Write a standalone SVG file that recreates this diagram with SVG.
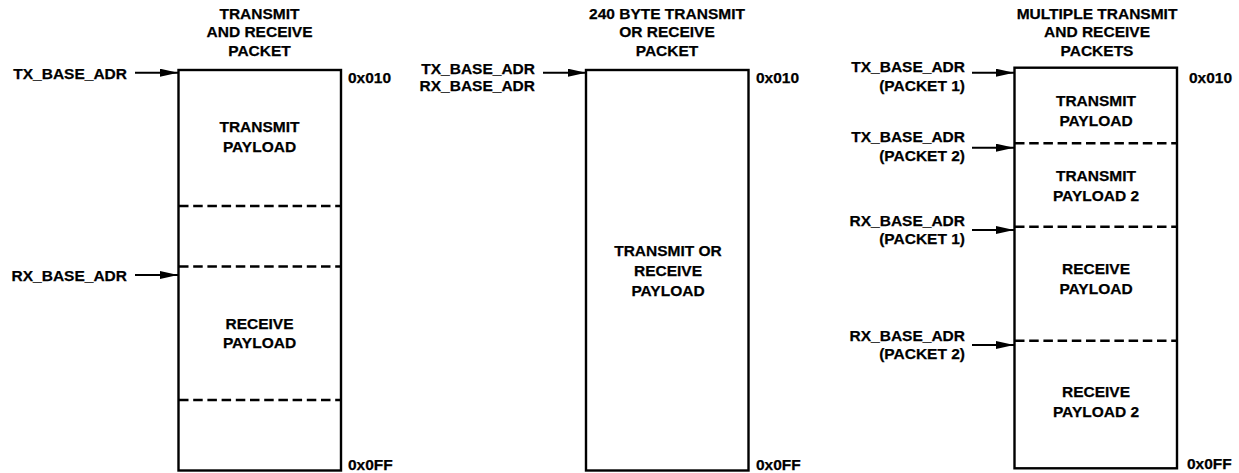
<svg xmlns="http://www.w3.org/2000/svg" width="1239" height="473" viewBox="0 0 1239 473">
<style>
text{font-family:"Liberation Sans",Arial,sans-serif;font-weight:bold;font-size:15.5px;fill:#000;stroke:#000;stroke-width:0.25}
.m{text-anchor:middle}
.e{text-anchor:end}
.box{fill:#fff;stroke:#000;stroke-width:2.4}
.dash{stroke:#000;stroke-width:2.5;stroke-dasharray:9.5 4.7;fill:none}
.arr{stroke:#000;stroke-width:1.9;fill:none;marker-end:url(#ah)}
</style>
<defs>
<marker id="ah" markerUnits="userSpaceOnUse" markerWidth="18" markerHeight="8" refX="18" refY="4" orient="auto">
<path d="M0,0 L18,4 L0,8 Z" fill="#000"/>
</marker>
</defs>
<rect width="1239" height="473" fill="#fff"/>
<g id="mem1">
<text class="m" x="259.5" y="19">TRANSMIT</text>
<text class="m" x="259.5" y="37.3">AND RECEIVE</text>
<text class="m" x="259.5" y="55.7">PACKET</text>
<rect class="box" x="178.5" y="70" width="162.5" height="400.5"/>
<line class="dash" x1="179" y1="206" x2="341" y2="206"/>
<line class="dash" x1="179" y1="266.5" x2="341" y2="266.5"/>
<line class="dash" x1="179" y1="400" x2="341" y2="400"/>
<text class="m" x="259.5" y="132.3">TRANSMIT</text>
<text class="m" x="259.5" y="152.3">PAYLOAD</text>
<text class="m" x="259.5" y="329">RECEIVE</text>
<text class="m" x="259.5" y="348">PAYLOAD</text>
<text x="348" y="83.3">0x010</text>
<text x="348" y="470">0x0FF</text>
<text class="e" x="127" y="79">TX_BASE_ADR</text>
<text class="e" x="127" y="280.5">RX_BASE_ADR</text>
</g>
<g id="mem2">
<text class="m" x="667" y="19">240 BYTE TRANSMIT</text>
<text class="m" x="667" y="37.3">OR RECEIVE</text>
<text class="m" x="667" y="55.7">PACKET</text>
<rect class="box" x="586" y="70" width="162.5" height="400.5"/>
<text class="m" x="668" y="256">TRANSMIT OR</text>
<text class="m" x="668" y="276">RECEIVE</text>
<text class="m" x="668" y="295.5">PAYLOAD</text>
<text x="756" y="83.3">0x010</text>
<text x="756" y="470">0x0FF</text>
<text class="e" x="535" y="74">TX_BASE_ADR</text>
<text class="e" x="535" y="90.7">RX_BASE_ADR</text>
</g>
<g id="mem3">
<text class="m" x="1097" y="19">MULTIPLE TRANSMIT</text>
<text class="m" x="1097" y="37.3">AND RECEIVE</text>
<text class="m" x="1097" y="55.7">PACKETS</text>
<rect class="box" x="1014.5" y="67.7" width="162.5" height="400.6"/>
<line class="dash" x1="1015" y1="143.3" x2="1177" y2="143.3"/>
<line class="dash" x1="1015" y1="226.7" x2="1177" y2="226.7"/>
<line class="dash" x1="1015" y1="340.7" x2="1177" y2="340.7"/>
<text class="m" x="1096" y="105.7">TRANSMIT</text>
<text class="m" x="1096" y="125.7">PAYLOAD</text>
<text class="m" x="1096" y="180.7">TRANSMIT</text>
<text class="m" x="1096" y="200.7">PAYLOAD 2</text>
<text class="m" x="1096" y="274">RECEIVE</text>
<text class="m" x="1096" y="294">PAYLOAD</text>
<text class="m" x="1096" y="397.3">RECEIVE</text>
<text class="m" x="1096" y="417.3">PAYLOAD 2</text>
<text x="1189" y="83.3">0x010</text>
<text x="1187" y="469">0x0FF</text>
<text class="e" x="965" y="72.3">TX_BASE_ADR</text>
<text class="e" x="965" y="90.7">(PACKET 1)</text>
<text class="e" x="965" y="142.3">TX_BASE_ADR</text>
<text class="e" x="965" y="160.7">(PACKET 2)</text>
<text class="e" x="965" y="225.7">RX_BASE_ADR</text>
<text class="e" x="965" y="244">(PACKET 1)</text>
<text class="e" x="965" y="340.7">RX_BASE_ADR</text>
<text class="e" x="965" y="359">(PACKET 2)</text>
</g>
<g id="connectors">
<line class="arr" x1="135" y1="72.7" x2="178" y2="72.7"/>
<line class="arr" x1="135" y1="275" x2="178" y2="275"/>
<line class="arr" x1="543" y1="72.7" x2="586" y2="72.7"/>
<line class="arr" x1="972" y1="72.7" x2="1014" y2="72.7"/>
<line class="arr" x1="972" y1="147.7" x2="1014" y2="147.7"/>
<line class="arr" x1="972" y1="230" x2="1014" y2="230"/>
<line class="arr" x1="972" y1="345" x2="1014" y2="345"/>
</g>
</svg>
